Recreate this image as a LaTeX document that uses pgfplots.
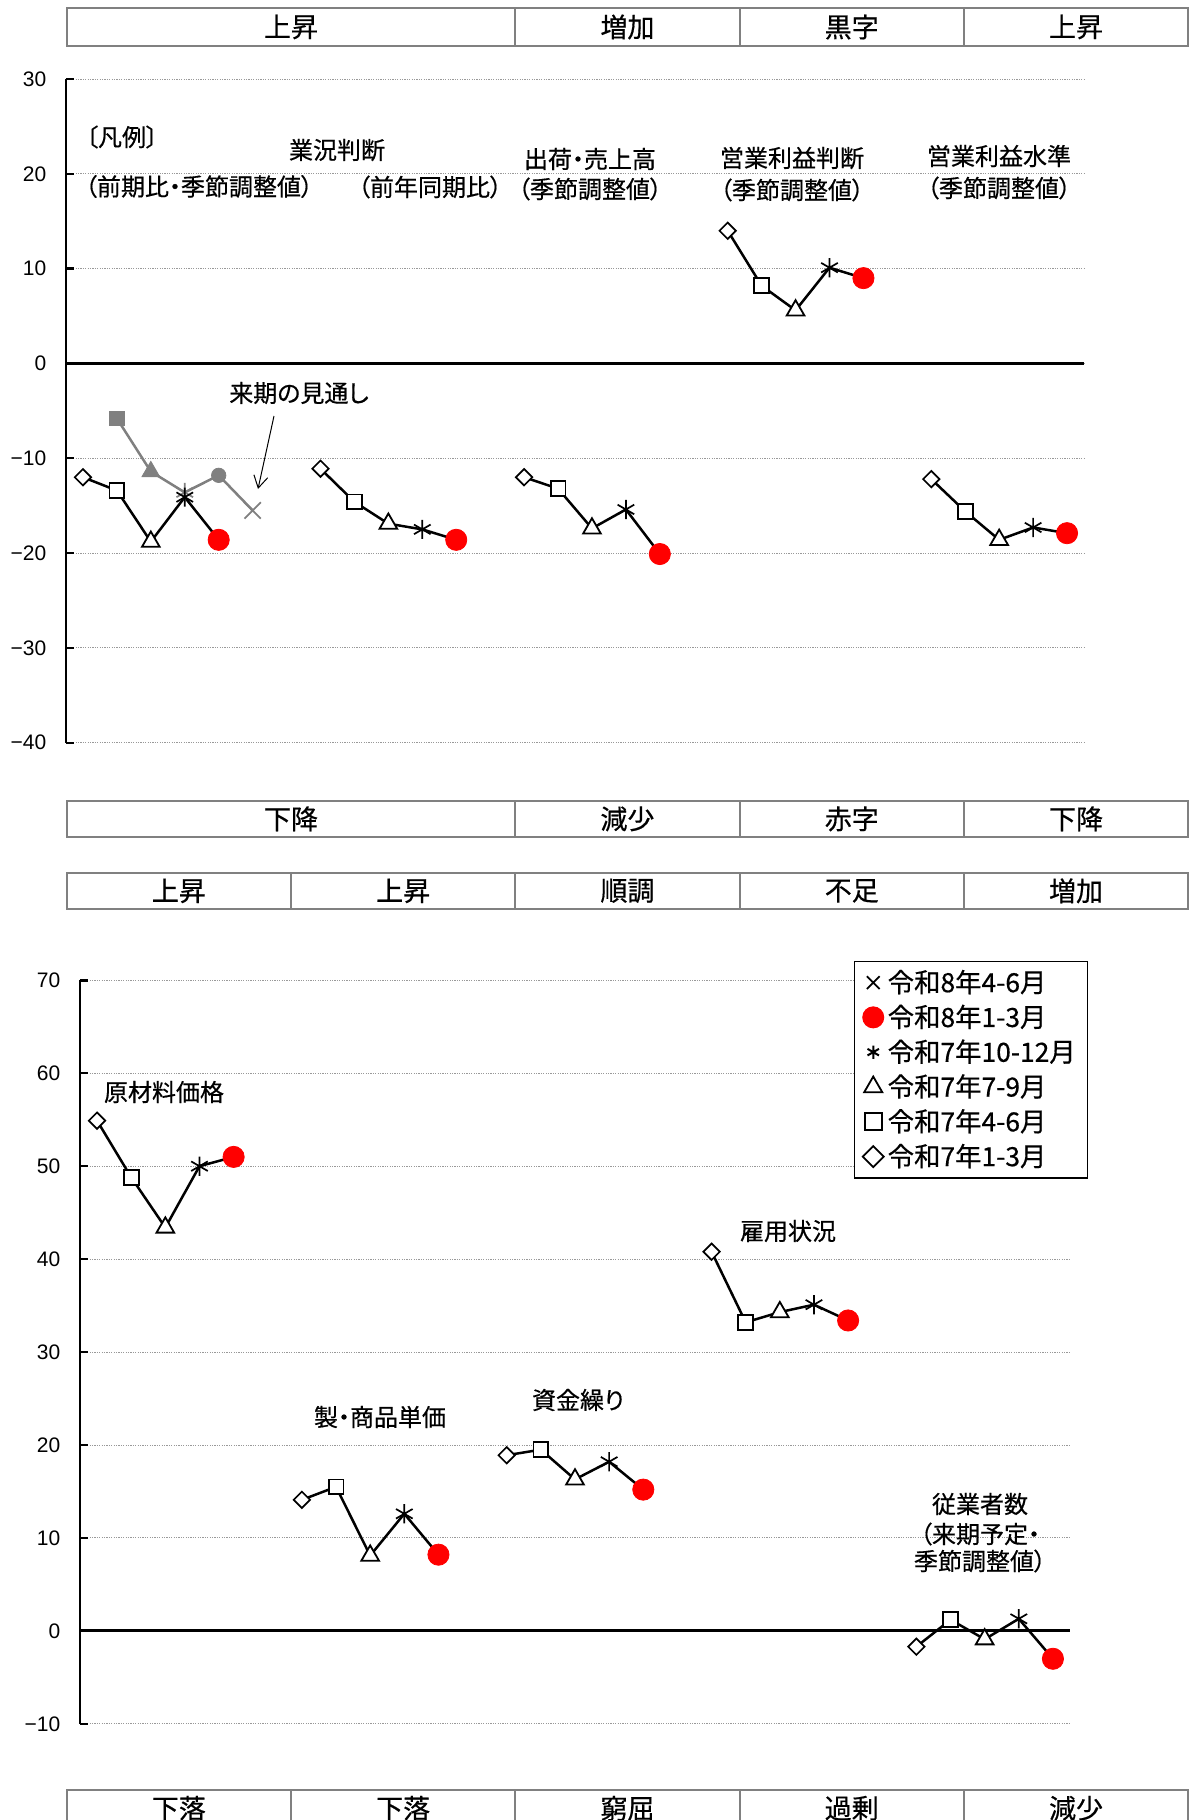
\documentclass[border=0pt]{standalone}
\usepackage{fontspec}
\setmainfont{Noto Sans CJK JP}[RawFeature=+palt, UprightFeatures={FakeBold=0.5}]
\newfontfamily\ticfont{Liberation Sans}
\usepackage{pgfplots}
\pgfplotsset{compat=1.18}
\usepackage{pgfplotstable}
\usetikzlibrary{arrows.meta}

\definecolor{boxgray}{gray}{0.5}
\definecolor{fcgray}{RGB}{128,128,128}
\definecolor{gridgray}{gray}{0.6}

\newcommand\lbl{\fontsize{12}{14}\selectfont}
\newcommand\hdr{\fontsize{13.5}{16}\selectfont}
\newcommand\leg{\fontsize{13.2}{15}\selectfont}

% 上段: x=カテゴリ位置, p=期 (0:R7.1-3 ... 4:R8.1-3)
\pgfplotstableread{
x  y     p
0  -12.0 0
1  -13.4 1
2  -18.8 2
3  -14.1 3
4  -18.6 4
6  nan   -1
7  -11.1 0
8  -14.6 1
9  -16.9 2
10 -17.5 3
11 -18.6 4
12 nan   -1
13 -12.0 0
14 -13.2 1
15 -17.4 2
16 -15.4 3
17 -20.1 4
18 nan   -1
19 14.0  0
20 8.2   1
21 5.6   2
22 10.1  3
23 9.0   4
24 nan   -1
25 -12.2 0
26 -15.6 1
27 -18.6 2
28 -17.3 3
29 -17.9 4
}\upperdata

% 来期の見通し (業況判断・前期比)
\pgfplotstableread{
x y     p
1 -5.8  1
2 -11.4 2
3 -13.6 3
4 -11.8 4
5 -15.5 5
}\outlookdata

% 下段
\pgfplotstableread{
x  y    p
0  54.9 0
1  48.8 1
2  43.4 2
3  50.0 3
4  51.0 4
5  nan  -1
6  14.1 0
7  15.5 1
8  8.1  2
9  12.6 3
10 8.2  4
11 nan  -1
12 18.9 0
13 19.5 1
14 16.3 2
15 18.2 3
16 15.2 4
17 nan  -1
18 40.8 0
19 33.2 1
20 34.3 2
21 35.1 3
22 33.4 4
23 nan  -1
24 -1.7 0
25 1.2  1
26 -0.9 2
27 1.3  3
28 -3.0 4
}\lowerdata

\pgfplotsset{
  mD/.style={mark=square*, mark size=2.9pt, mark options={rotate=45, fill=white, draw=black, line width=0.85pt}},
  mS/.style={mark=square*, mark size=3.7pt, mark options={fill=white, draw=black, line width=0.9pt}},
  mT/.style={mark=triangle*, mark size=5.1pt, mark options={fill=white, draw=black, line width=0.9pt}},
  mA/.style={mark=asterisk, mark size=4.8pt, mark options={draw=black, line width=0.85pt}},
  mR/.style={mark=*, mark size=5.3pt, mark options={fill=red, draw=red}},
  qline/.style={black, line width=1.25pt, no marks, unbounded coords=jump, forget plot},
  chart/.style={
    scale only axis, anchor=south west, clip=false,
    axis x line=none, axis y line=left,
    axis line style={-, line width=1.2pt, black},
    xtick=\empty,
    ymajorgrids,
    major grid style={gridgray, line width=0.5pt, dash pattern=on 0.6pt off 0.6pt},
    tick align=inside, major tick length=4pt,
    tick style={black, line width=1.2pt},
    yticklabel style={font=\ticfont\fontsize{10.5}{12}\selectfont, xshift=-6.3pt},
  },
}

\newcommand\periodmarks[1]{%
  \addplot[only marks, mD, forget plot, restrict expr to domain={\thisrow{p}}{-0.5:0.5}] table[x=x,y=y]{#1};
  \addplot[only marks, mS, forget plot, restrict expr to domain={\thisrow{p}}{0.5:1.5}] table[x=x,y=y]{#1};
  \addplot[only marks, mT, forget plot, restrict expr to domain={\thisrow{p}}{1.5:2.5}] table[x=x,y=y]{#1};
  \addplot[only marks, mA, forget plot, restrict expr to domain={\thisrow{p}}{2.5:3.5}] table[x=x,y=y]{#1};
  \addplot[only marks, mR, forget plot, restrict expr to domain={\thisrow{p}}{3.5:4.5}] table[x=x,y=y]{#1};
}

\newcommand\hcell[5]{%
  \draw[boxgray, line width=1.1pt] (#1,#3) rectangle (#2,#4);
  \node[font=\hdr] at ({(#1+#2)/2},{(#3+#4)/2}) {#5};
}

\begin{document}
\begin{tikzpicture}[x=0.5pt, y=-0.5pt]
\useasboundingbox (0,0) rectangle (1192,1820);

% 上段ヘッダ
\hcell{66.7}{515.3}{8.3}{45.7}{上昇}
\hcell{515.3}{739.6}{8.3}{45.7}{増加}
\hcell{739.6}{963.9}{8.3}{45.7}{黒字}
\hcell{963.9}{1188.2}{8.3}{45.7}{上昇}

\coordinate (A1) at (66,742.7);
\begin{axis}[chart, at={(A1)},
  width=509pt, height=331.85pt,
  xmin=-0.5, xmax=29.5, ymin=-40, ymax=30,
  ytick={-40,-30,...,30},
  yticklabels={−40,−30,−20,−10,0,10,20,30},
]
\draw[black, line width=1.4pt] (axis cs:-0.5,0) -- (axis cs:29.5,0);
% 来期の見通し
\addplot[fcgray, line width=1.25pt, no marks, forget plot] table[x=x,y=y]{\outlookdata};
\addplot[only marks, forget plot, mark=square*, mark size=3.6pt, mark options={fill=fcgray, draw=fcgray},
  restrict expr to domain={\thisrow{p}}{0.5:1.5}] table[x=x,y=y]{\outlookdata};
\addplot[only marks, forget plot, mark=triangle*, mark size=5.1pt, mark options={fill=fcgray, draw=fcgray},
  restrict expr to domain={\thisrow{p}}{1.5:2.5}] table[x=x,y=y]{\outlookdata};
\addplot[only marks, forget plot, mark=asterisk, mark size=4.8pt, mark options={draw=fcgray, line width=0.85pt},
  restrict expr to domain={\thisrow{p}}{2.5:3.5}] table[x=x,y=y]{\outlookdata};
\addplot[only marks, forget plot, mark=*, mark size=3.6pt, mark options={fill=fcgray, draw=fcgray},
  restrict expr to domain={\thisrow{p}}{3.5:4.5}] table[x=x,y=y]{\outlookdata};
\addplot[only marks, forget plot, mark=x, mark size=5.8pt, mark options={draw=fcgray, line width=0.9pt},
  restrict expr to domain={\thisrow{p}}{4.5:5.5}] table[x=x,y=y]{\outlookdata};
% 実績
\addplot[qline] table[x=x,y=y]{\upperdata};
\periodmarks{\upperdata}
\end{axis}

% 上段ラベル
\node[font=\lbl] at (122,137) {〔凡例〕};
\node[font=\lbl] at (199,186.5) {（前期比・季節調整値）};
\node[font=\lbl] at (337,150) {業況判断};
\node[font=\lbl] at (430,187) {（前年同期比）};
\node[font=\lbl] at (590,159) {出荷・売上高};
\node[font=\lbl] at (590,189) {（季節調整値）};
\node[font=\lbl] at (792,158) {営業利益判断};
\node[font=\lbl] at (792,190) {（季節調整値）};
\node[font=\lbl] at (999,156) {営業利益水準};
\node[font=\lbl] at (999,188) {（季節調整値）};
\node[font=\lbl] at (299,393) {来期の見通し};
\draw[line width=0.5pt, -{Straight Barb[length=6pt, width=7pt]}] (274,416) -- (258,489);

% 上段フッタ
\hcell{66.7}{515.3}{800.7}{837}{下降}
\hcell{515.3}{739.6}{800.7}{837}{減少}
\hcell{739.6}{963.9}{800.7}{837}{赤字}
\hcell{963.9}{1188.2}{800.7}{837}{下降}

% 下段ヘッダ
\hcell{66.7}{291.0}{872.7}{909}{上昇}
\hcell{291.0}{515.3}{872.7}{909}{上昇}
\hcell{515.3}{739.6}{872.7}{909}{順調}
\hcell{739.6}{963.9}{872.7}{909}{不足}
\hcell{963.9}{1188.2}{872.7}{909}{増加}

\coordinate (A2) at (80,1723.8);
\begin{axis}[chart, at={(A2)},
  width=495pt, height=371.75pt,
  xmin=-0.5, xmax=28.5, ymin=-10, ymax=70,
  ytick={-10,0,...,70},
  yticklabels={−10,0,10,20,30,40,50,60,70},
  legend image code/.code={\draw[#1] plot coordinates {(0pt,0pt)};},
  legend cell align=left,
  legend style={at={(0.782,1.0266)}, anchor=north west,
    draw=black, line width=0.6pt, fill=white,
    font=\leg, inner xsep=4pt, inner ysep=2pt,
    nodes={inner sep=2pt, text height=11.5pt, text depth=1.9pt}},
]
\draw[black, line width=1.4pt] (axis cs:-0.5,0) -- (axis cs:28.5,0);
\addplot[qline] table[x=x,y=y]{\lowerdata};
\periodmarks{\lowerdata}
\addlegendimage{only marks, mark=x, mark size=4.5pt, mark options={draw=black, line width=0.9pt}}
\addlegendentry{令和8年4-6月}
\addlegendimage{only marks, mark=*, mark size=5.2pt, mark options={fill=red, draw=red}}
\addlegendentry{令和8年1-3月}
\addlegendimage{only marks, mark=asterisk, mark size=3.3pt, mark options={draw=black, line width=1pt}}
\addlegendentry{令和7年10-12月}
\addlegendimage{only marks, mark=triangle*, mark size=5.2pt, mark options={fill=white, draw=black, line width=0.9pt}}
\addlegendentry{令和7年7-9月}
\addlegendimage{only marks, mark=square*, mark size=4.2pt, mark options={fill=white, draw=black, line width=0.9pt}}
\addlegendentry{令和7年4-6月}
\addlegendimage{only marks, mark=square*, mark size=3.7pt, mark options={rotate=45, fill=white, draw=black, line width=0.9pt}}
\addlegendentry{令和7年1-3月}
\end{axis}

% 下段ラベル
\node[font=\lbl] at (164,1092) {原材料価格};
\node[font=\lbl] at (380,1417) {製・商品単価};
\node[font=\lbl] at (578,1400) {資金繰り};
\node[font=\lbl] at (788,1231) {雇用状況};
\node[font=\lbl] at (980,1504) {従業者数};
\node[font=\lbl] at (980,1534) {（来期予定・};
\node[font=\lbl] at (980,1561) {季節調整値）};

% 下段フッタ (下端で切れている)
\begin{scope}
\clip (0,1770) rectangle (1192,1820);
\hcell{66.7}{291.0}{1790}{1826.5}{下落}
\hcell{291.0}{515.3}{1790}{1826.5}{下落}
\hcell{515.3}{739.6}{1790}{1826.5}{窮屈}
\hcell{739.6}{963.9}{1790}{1826.5}{過剰}
\hcell{963.9}{1188.2}{1790}{1826.5}{減少}
\end{scope}
\end{tikzpicture}
\end{document}
